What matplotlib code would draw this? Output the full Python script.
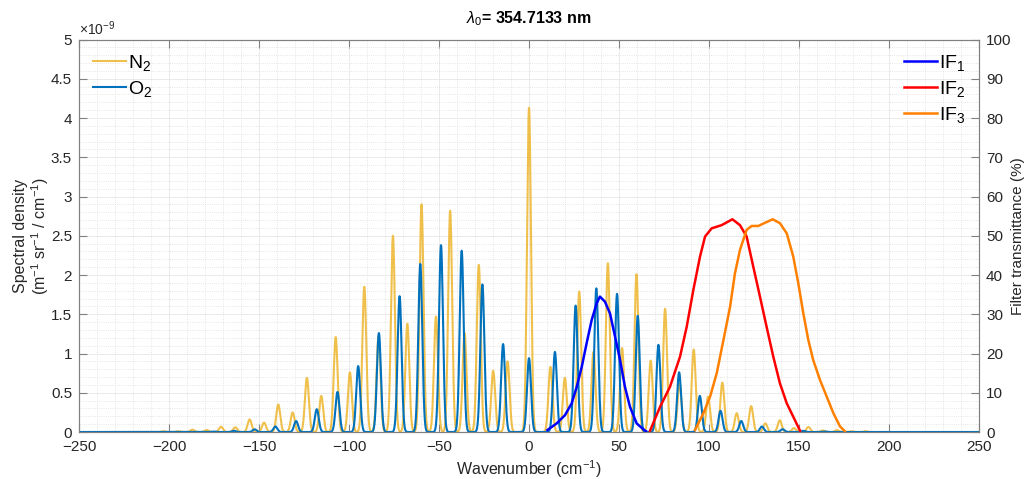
import numpy as np
import matplotlib
matplotlib.use('Agg')
import matplotlib.pyplot as plt
from matplotlib.ticker import MultipleLocator, FuncFormatter

plt.rcParams['font.family'] = ['Liberation Sans', 'DejaVu Sans']
plt.rcParams['mathtext.fontset'] = 'custom'
plt.rcParams['mathtext.rm'] = 'Liberation Sans'
plt.rcParams['mathtext.it'] = 'Liberation Sans:italic'
plt.rcParams['mathtext.bf'] = 'Liberation Sans:bold'

# Rotational Raman lines (position in cm-1, peak height in 1e-9 units)
n2_pos = [-203.0, -195.0, -187.0, -179.1, -171.1, -163.2, -155.2, -147.2, -139.3, -131.3,
          -123.4, -115.4, -107.4, -99.5, -91.5, -83.6, -75.6, -67.6, -59.7, -51.7,
          -43.8, -35.8, -27.9, -19.9, -11.9, 0.0,
          11.9, 19.9, 27.9, 35.8, 43.8, 51.7, 59.7, 67.6, 75.6, 83.6,
          91.5, 99.5, 107.4, 115.4, 123.4, 131.3, 139.3, 147.2, 155.2, 163.2,
          171.1, 179.1, 187.0]
n2_height = [0.01, 0.01, 0.03, 0.026, 0.068, 0.06, 0.16, 0.12, 0.35, 0.25,
             0.69, 0.46, 1.21, 0.76, 1.85, 1.22, 2.50, 1.38, 2.90, 1.47,
             2.82, 1.26, 2.13, 0.78, 0.90, 4.13,
             0.83, 0.69, 1.79, 1.02, 2.15, 1.07, 2.01, 0.91, 1.57, 0.62,
             1.05, 0.45, 0.63, 0.24, 0.33, 0.11, 0.15, 0.05, 0.064, 0.02,
             0.025, 0.01, 0.01]

o2_pos = [-175.4, -163.9, -152.4, -140.9, -129.4, -117.9, -106.4, -94.9, -83.4, -71.9,
          -60.4, -48.9, -37.4, -25.9, -14.4, 0.0,
          14.4, 25.9, 37.4, 48.9, 60.4, 71.9, 83.4, 94.9, 106.4, 117.9,
          129.4, 140.9, 152.4, 163.9]
o2_height = [0.006, 0.015, 0.034, 0.07, 0.14, 0.29, 0.51, 0.84, 1.26, 1.73,
             2.14, 2.38, 2.31, 1.88, 1.12, 0.94,
             1.02, 1.61, 1.83, 1.76, 1.48, 1.11, 0.76, 0.46, 0.27, 0.14,
             0.07, 0.035, 0.015, 0.006]

# Interference filter transmission curves (wavenumber cm-1, transmittance %)
if1_wn = [10.2, 15.4, 20.0, 23.7, 26.5, 29.3, 32.0, 34.8, 37.6, 39.4, 42.2, 45.0,
          47.8, 50.6, 53.3, 56.1, 59.8, 63.5, 65.0]
if1_t = [0.5, 2.2, 4.3, 7.3, 11.5, 16.6, 22.6, 28.5, 32.8, 34.5, 33.2, 30.2,
         24.3, 18.3, 11.5, 6.4, 2.2, 0.7, 0.2]

if2_wn = [67.2, 72.8, 78.3, 83.9, 87.6, 91.3, 95.0, 97.8, 101.5, 107.0, 113.0, 117.2,
          120.9, 124.6, 128.3, 132.0, 135.7, 139.4, 143.2, 146.8, 150.6]
if2_t = [0.3, 6.4, 11.5, 19.2, 26.8, 36.2, 44.7, 49.8, 51.9, 52.7, 54.2, 52.7,
         49.8, 42.1, 34.5, 26.8, 19.2, 12.4, 7.3, 3.9, 0.3]

if3_wn = [92.2, 96.9, 100.6, 104.3, 108.0, 111.7, 114.4, 117.2, 120.9, 123.7, 127.4,
          131.1, 135.4, 139.4, 143.2, 146.8, 149.6, 152.4, 155.2, 157.9, 161.7,
          165.4, 169.1, 172.8, 175.5]
if3_t = [0.5, 4.8, 9.0, 15.0, 23.4, 31.9, 40.4, 46.4, 51.5, 52.5, 52.5,
         53.3, 54.2, 53.2, 50.6, 44.7, 37.9, 30.2, 23.4, 18.3, 13.2,
         9.0, 4.8, 1.4, 0.2]

sigma = 1.1
wn = np.arange(-250, 250.01, 0.05)


def spectrum(pos, height):
    s = np.zeros_like(wn)
    for p, h in zip(pos, height):
        s += h * 1e-9 * np.exp(-0.5 * ((wn - p) / sigma) ** 2)
    return s


n2_spec = spectrum(n2_pos, n2_height)
o2_spec = spectrum(o2_pos, o2_height)

fig = plt.figure(figsize=(10.30, 4.79), dpi=100)
ax = fig.add_axes([0.0767, 0.0981, 0.8738, 0.8194])
ax2 = ax.twinx()

ax.plot(wn, n2_spec, color='#EDB120', alpha=0.8, lw=1.5, label='N$_2$')
ax.plot(wn, o2_spec, color='#0072BD', lw=1.5, label='O$_2$')

ax2.plot(if1_wn, if1_t, color='#0000FF', lw=1.8, label='IF$_1$')
ax2.plot(if2_wn, if2_t, color='#FF0000', lw=1.8, label='IF$_2$')
ax2.plot(if3_wn, if3_t, color='#FF8000', lw=1.8, label='IF$_3$')

ax.set_xlim(-250, 250)
ax.set_ylim(0, 5e-9)
ax2.set_ylim(0, 100)

ax.xaxis.set_major_locator(MultipleLocator(50))
ax.xaxis.set_minor_locator(MultipleLocator(10))
ax.yaxis.set_major_locator(MultipleLocator(0.5e-9))
ax.yaxis.set_minor_locator(MultipleLocator(0.1e-9))
ax2.yaxis.set_major_locator(MultipleLocator(10))
ax.yaxis.set_major_formatter(FuncFormatter(lambda v, p: '%g' % round(v * 1e9, 2)))
ax.yaxis.get_offset_text().set_visible(False)
ax2.yaxis.get_offset_text().set_visible(False)

ax.grid(which='major', color='#e6e6e6', lw=0.6, ls='-')
ax.grid(which='minor', color='#dedede', lw=0.6, ls=':')

spine_col = '#808080'
for a in (ax, ax2):
    for sp in a.spines.values():
        sp.set_color(spine_col)
        sp.set_linewidth(0.8)
ax.tick_params(which='major', direction='in', length=6, width=0.8, color=spine_col,
               labelcolor='#262626', labelsize=11, top=True, right=False)
ax.tick_params(axis='x', pad=6)
ax.tick_params(axis='y', pad=5)
ax.tick_params(which='minor', length=0)
ax2.tick_params(which='major', direction='in', length=6, width=0.8, color=spine_col,
                labelcolor='#262626', labelsize=11, pad=5)

ax.text(0.0, 1.004, r'$\times$10$^{-9}$', transform=ax.transAxes, fontsize=10,
        color='#262626', ha='left', va='bottom')

ax.set_xlabel('Wavenumber (cm$^{-1}$)', fontsize=11.5, color='#262626', labelpad=3)
ax.set_ylabel('Spectral density\n(m$^{-1}$ sr$^{-1}$ / cm$^{-1}$)', fontsize=11.5,
              color='#262626', linespacing=1.1)
ax.yaxis.set_label_coords(-0.031, 0.5)
ax2.set_ylabel('Filter transmittance (%)', fontsize=11, color='#262626')
ax2.yaxis.set_label_coords(1.035, 0.5)
ax.set_title(r'$\lambda_0$= 354.7133 nm', fontsize=11.5, fontweight='bold',
             color='#000000', pad=12)

ax.legend(loc='upper left', frameon=False, fontsize=14, handlelength=1.7,
          handletextpad=0.1, labelspacing=0.3, borderaxespad=0.3)
ax2.legend(loc='upper right', frameon=False, fontsize=14, handlelength=1.7,
           handletextpad=0.1, labelspacing=0.3, borderaxespad=0.3)

fig.savefig('out.png', dpi=100)
